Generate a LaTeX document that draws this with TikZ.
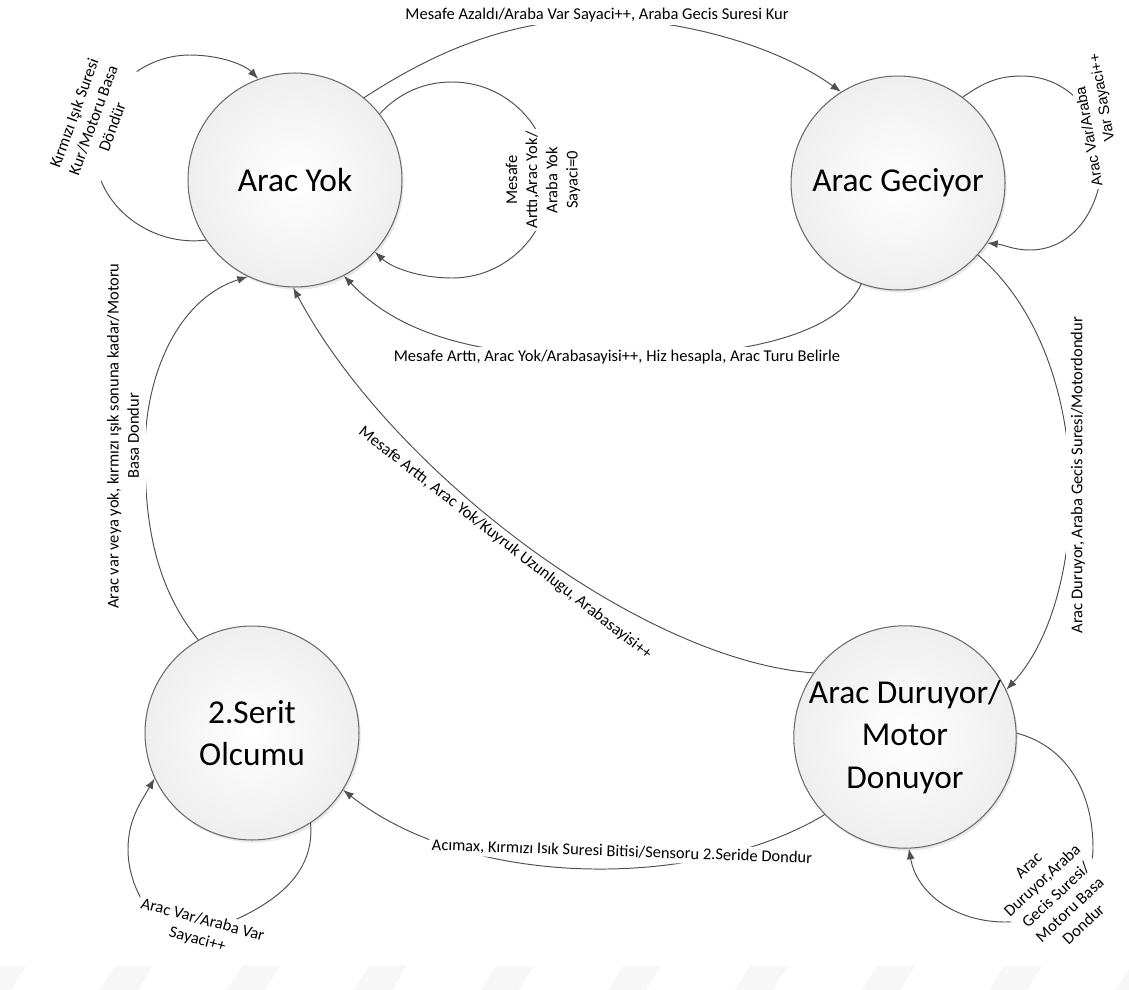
\documentclass[tikz,border=0pt]{standalone}
\usepackage{fontspec}
\setmainfont{Carlito}
\newfontfamily\arialf{Liberation Sans}
\usetikzlibrary{arrows.meta,shadows}
\definecolor{edgec}{HTML}{505050}
\definecolor{circc}{HTML}{6A6A6A}
\begin{document}
\begin{tikzpicture}[x=0.02cm,y=-0.02cm,
  state/.style={circle,draw=circc,line width=0.6pt,minimum size=4.28cm,inner sep=0pt,align=center,
    font=\fontsize{19}{24}\selectfont,inner color=white,outer color=gray!13,
    drop shadow={shadow xshift=1pt,shadow yshift=-1.5pt,opacity=0.25,fill=gray!70}},
  conn/.style={draw=edgec,line width=0.55pt,-{Latex[length=6pt,width=4.5pt]}},
  elab/.style={font=\fontsize{9.4}{11.5}\selectfont,fill=white,inner sep=1.5pt,align=center,text=black},
  wmark/.style={fill=gray!6,draw=none}]
\useasboundingbox (0,0) rectangle (1129,990);

% faint watermark
\foreach \i in {-1,0,...,8}{
  \fill[wmark] ({100+127*\i},990) -- ({115+127*\i},966) -- ({153+127*\i},966) -- ({138+127*\i},990) -- cycle;
}

% states
\node[state] (ay) at (295,180) {Arac Yok};
\node[state] (ag) at (898,183) {Arac Geciyor};
\node[state] (sr) at (252,733) {2.Serit\\Olcumu};
\node[state] (dd) at (905,737) {Arac Duruyor/\\Motor\\Donuyor};

% Arac Yok -> Arac Geciyor
\draw[conn] (ay.50) .. controls (430,55) and (500,22) .. (597,18)
  .. controls (690,20) and (780,48) .. (ag.122);
\node[elab] (l1) at (597,15) {Mesafe Azaldı/Araba Var Sayaci++, Araba Gecis Suresi Kur};

% Arac Yok self loop (right)
\draw[conn] (ay.38) .. controls (400,92) and (425,82) .. (452,82)
  .. controls (506,82) and (550,126) .. (550,180)
  .. controls (550,234) and (506,278) .. (452,278)
  .. controls (420,278) and (392,268) .. (ay.-42);
\node[elab,rotate=90] (l2) at (543,180) {Mesafe\\Arttı,Arac Yok/\\Araba Yok\\Sayaci=0};

% Arac Yok self loop (left)
\draw[conn] (ay.214) .. controls (150,247) and (95,205) .. (95,150)
  .. controls (95,98) and (138,55) .. (190,55)
  .. controls (220,55) and (245,65) .. (ay.110);
\node[elab,rotate=70] (l3) at (93,120) {Kırmızı Işık Suresi\\Kur/Motoru Basa\\Döndür};

% Arac Geciyor self loop
\draw[conn] (ag.53) to[out=35,in=180] (1022,76) to[out=0,in=90] (1102,160)
  to[out=-90,in=0] (1030,250) to[out=180,in=-5] (ag.-34);
\node[elab,rotate=100,align=left,font=\arialf\fontsize{8.5}{11}\selectfont] (l4) at (1097,120)
  {Arac Var/Araba\\\hspace*{24pt}Var Sayaci++};

% Arac Geciyor -> Arac Yok
\draw[conn] (ag.-110) .. controls (840,330) and (760,356) .. (617,358)
  .. controls (480,358) and (400,335) .. (ay.-63);
\node[elab] (l5) at (617,357) {Mesafe Arttı, Arac Yok/Arabasayisi++, Hiz hesapla, Arac Turu Belirle};

% Arac Geciyor -> Arac Duruyor
\draw[conn] (ag.-42) .. controls (1100,360) and (1090,600) .. (dd.25);
\node[elab,rotate=90,inner sep=3pt] (l6) at (1078,475) {Arac Duruyor, Araba Gecis Suresi/Motordondur};

% Arac Duruyor -> Arac Yok (diagonal)
\draw[conn] (dd.145) .. controls (640,660) and (390,470) .. (ay.-91);
\node[elab,rotate=-38] (l7) at (505,543) {Mesafe Arttı, Arac Yok/Kuyruk Uzunlugu, Arabasayisi++};

% Arac Duruyor -> 2.Serit
\draw[conn] (dd.224) .. controls (700,890) and (470,890) .. (sr.-32);
\node[elab,rotate=-2] (l8) at (622,852) {Acımax, Kırmızı Isık Suresi Bitisi/Sensoru 2.Seride Dondur};

% 2.Serit -> Arac Yok
\draw[conn] (sr.120) .. controls (150,580) and (145,510) .. (145,450)
  .. controls (145,380) and (175,300) .. (ay.-116);
\node[elab,rotate=90,inner sep=4pt] (l9) at (123,436) {Arac var veya yok, kırmızı ışık sonuna kadar/Motoru\\Basa Dondur};

% 2.Serit self loop
\draw[conn] (sr.-57) to[out=-85,in=20] (205,932) to[out=200,in=-90] (128,850)
  to[out=90,in=-120] (sr.205);
\node[elab,rotate=-15] (l10) at (200,930) {Arac Var/Araba Var\\Sayaci++};

% Arac Duruyor self loop
\draw[conn] (dd.2) to[out=-15,in=90] (1093,848) to[out=-90,in=0] (1005,922)
  to[out=180,in=-80] (dd.-88);
\node[elab,rotate=43] (l11) at (1056,895) {Arac\\Duruyor,Araba\\Gecis Suresi/\\Motoru Basa\\Dondur};

\end{tikzpicture}
\end{document}
